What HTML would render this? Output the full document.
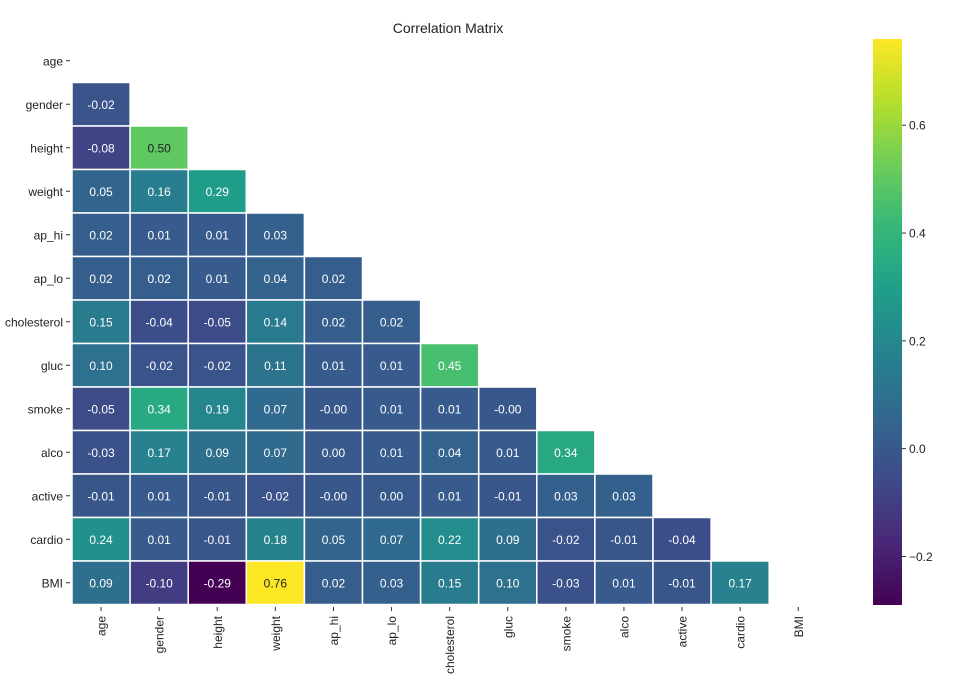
<!DOCTYPE html>
<html><head><meta charset="utf-8"><style>
body{margin:0;background:#fff;font-family:"Liberation Sans",Arial,sans-serif}
svg text{font-family:"Liberation Sans",Arial,sans-serif}
</style></head><body>
<svg id="chart" width="965" height="680" xmlns="http://www.w3.org/2000/svg">
<text x="448" y="33" text-anchor="middle" font-size="14" fill="#222">Correlation Matrix</text>
<g id="cells"></g><g id="ylab"></g><g id="xlab"></g>
<defs><linearGradient id="cbg" x1="0" y1="1" x2="0" y2="0"></linearGradient></defs>
<rect x="873" y="39" width="29" height="566" fill="url(#cbg)"/>
<g id="cbticks"></g>
</svg>
<script>
const labels=["age","gender","height","weight","ap_hi","ap_lo","cholesterol","gluc","smoke","alco","active","cardio","BMI"];
const rowGender=[-0.02];
const rowHeight=[-0.08,0.50];
const rowWeight=[0.05,0.16,0.29];
const rowApHi=[0.02,0.01,0.01,0.03];
const rowApLo=[0.02,0.02,0.01,0.04,0.02];
const rowChol=[0.15,-0.04,-0.05,0.14,0.02,0.02];
const rowGluc=[0.10,-0.02,-0.02,0.11,0.01,0.01,0.45];
const rowSmoke=[-0.05,0.34,0.19,0.07,-0.004,0.01,0.01,-0.004];
const rowAlco=[-0.03,0.17,0.09,0.07,0.00,0.01,0.04,0.01,0.34];
const rowActive=[-0.01,0.01,-0.01,-0.02,-0.004,0.00,0.01,-0.01,0.03,0.03];
const rowCardio=[0.24,0.01,-0.01,0.18,0.05,0.07,0.22,0.09,-0.02,-0.01,-0.04];
const rowBMI=[0.09,-0.10,-0.29,0.76,0.02,0.03,0.15,0.10,-0.03,0.01,-0.01,0.17];
const rows=[[],rowGender,rowHeight,rowWeight,rowApHi,rowApLo,rowChol,rowGluc,rowSmoke,rowAlco,rowActive,rowCardio,rowBMI];
const cbTicks=[-0.2,0.0,0.2,0.4,0.6];
const vmin=-0.29,vmax=0.76;
const L=72,T=39,CW=58.1,RH=43.5,CBT=39,CBB=605;
const xs=i=>L+i*CW, ys=i=>T+i*RH;
const vy=v=>CBB-(v-vmin)/(vmax-vmin)*(CBB-CBT);
const stops=[[68,1,84],[72,40,120],[62,74,137],[49,104,142],[38,130,142],[31,158,137],[53,183,121],[109,205,89],[180,222,44],[253,231,37]];
function vir(t){t=Math.max(0,Math.min(1,t));const p=t*(stops.length-1),i=Math.min(Math.floor(p),stops.length-2),f=p-i;
const c=stops[i].map((a,k)=>Math.round(a+(stops[i+1][k]-a)*f));return `rgb(${c})`;}
const NS="http://www.w3.org/2000/svg";
function mk(tag,attrs,parent){const e=document.createElementNS(NS,tag);for(const k in attrs)e.setAttribute(k,attrs[k]);parent.appendChild(e);return e;}
const cells=document.getElementById('cells');
rows.forEach((r,ri)=>r.forEach((v,ci)=>{
 const t=(v-vmin)/(vmax-vmin);
 const rc=mk('rect',{x:xs(ci),y:ys(ri),width:CW,height:RH,fill:vir(t),stroke:'#fff','stroke-width':1.5},cells);
 
 
 const tx=mk('text',{x:xs(ci)+CW/2,y:ys(ri)+RH/2+4.5,'text-anchor':'middle','font-size':12,fill:v>0.47?'#222':'#fff'},cells);
 tx.textContent=v.toFixed(2);
 
 
}));
const yl=document.getElementById('ylab'),xl=document.getElementById('xlab');
labels.forEach((l,i)=>{
 const y=ys(i)+RH/2;
 const t=mk('text',{x:63,y:y+4.5,'text-anchor':'end','font-size':12,fill:'#222'},yl);t.textContent=l;
 
 
 mk('line',{x1:66,x2:70,y1:y,y2:y,stroke:'#333'},yl);
 const x=xs(i)+CW/2;
 mk('line',{x1:x,x2:x,y1:607,y2:611,stroke:'#333'},xl);
 const u=mk('text',{x:0,y:0,'text-anchor':'end','font-size':12,fill:'#222',transform:`translate(${x+4.5},616) rotate(-90)`},xl);u.textContent=l;
 
 
});
const g=document.querySelector('#cbg');
for(let i=0;i<=9;i++){mk('stop',{offset:i/9,'stop-color':`rgb(${stops[i]})`},g);}
const cb=document.getElementById('cbticks');
cbTicks.forEach(v=>{const y=vy(v);
 mk('line',{x1:902,x2:906,y1:y,y2:y,stroke:'#333'},cb);
 const t=mk('text',{x:909,y:y+4.5,'font-size':12,fill:'#222'},cb);t.textContent=(v<0?'\u2212':'')+Math.abs(v).toFixed(1);
 
 
});
</script>
</body></html>
